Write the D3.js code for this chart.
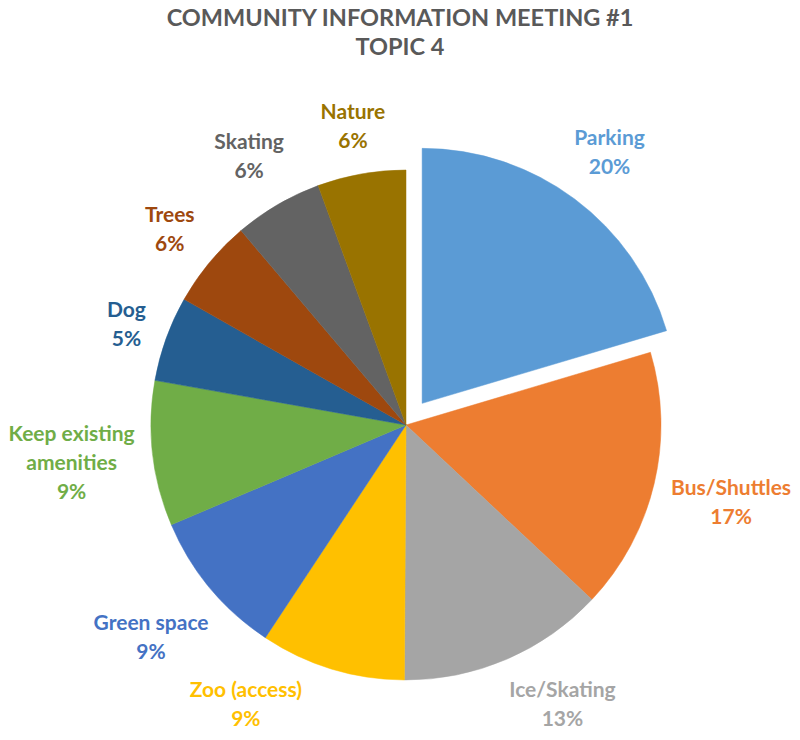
<!DOCTYPE html>
<html>
<head>
<meta charset="utf-8">
<script src="https://cdn.jsdelivr.net/npm/d3@7"></script>
<style>
  html, body { margin: 0; padding: 0; background: #fff; }
  svg { display: block; }
  text { font-family: "Lato", "Open Sans", sans-serif; font-weight: bold; }
</style>
</head>
<body>
<svg id="chart" width="800" height="740"></svg>
<script>
// ---- data ----
const titleLines = ["COMMUNITY INFORMATION MEETING #1", "TOPIC 4"];
const categories = ["Parking", "Bus/Shuttles", "Ice/Skating", "Zoo (access)", "Green space",
                    "Keep existing amenities", "Dog", "Trees", "Skating", "Nature"];
const values = [20.4, 16.6, 13.1, 9.2, 9.3, 9.2, 5.4, 5.6, 5.6, 5.6];
const labelLines = [["Parking"], ["Bus/Shuttles"], ["Ice/Skating"], ["Zoo (access)"], ["Green space"],
                    ["Keep existing", "amenities"], ["Dog"], ["Trees"], ["Skating"], ["Nature"]];
const explodedCategory = "Parking";

// ---- styles ----
const colors = ["#5B9BD5", "#ED7D31", "#A5A5A5", "#FFC000", "#4472C4",
                "#70AD47", "#255E91", "#9E480E", "#636363", "#997300"];
const cx = 406, cy = 425, R = 255, explode = 27, gap = 14, lineH = 29;
const bottomLimit = 734;

const svg = d3.select("#chart");
const color = d3.scaleOrdinal().domain(categories).range(colors);

// title
svg.append("g").selectAll("text").data(titleLines).join("text")
  .attr("x", 400).attr("y", (d, i) => 26 + i * 29)
  .attr("text-anchor", "middle")
  .attr("fill", "#595959")
  .style("font-size", "23.5px")
  .text(d => d);

const data = categories.map((c, i) => ({ cat: c, value: values[i], lines: labelLines[i] }));
const pie = d3.pie().sort(null).value(d => d.value).startAngle(0).endAngle(2 * Math.PI);
const arcs = pie(data);
const arc = d3.arc().innerRadius(0).outerRadius(R);

const g = svg.append("g").attr("transform", `translate(${cx},${cy})`);

function offsetOf(a) {
  if (a.data.cat !== explodedCategory) return [0, 0];
  const m = (a.startAngle + a.endAngle) / 2;
  return [Math.sin(m) * explode, -Math.cos(m) * explode];
}

g.selectAll("path").data(arcs).join("path")
  .attr("d", arc)
  .attr("transform", a => { const o = offsetOf(a); return `translate(${o[0]},${o[1]})`; })
  .attr("fill", a => color(a.data.cat))
  .attr("stroke", a => color(a.data.cat))
  .attr("stroke-width", 0.5);

// labels
const total = d3.sum(values);
const labels = g.selectAll("g.lbl").data(arcs).join("g").attr("class", "lbl");
labels.each(function(a) {
  const sel = d3.select(this);
  const lines = a.data.lines.concat([Math.round(a.data.value / total * 100) + "%"]);
  const t = sel.append("text")
    .attr("text-anchor", "middle")
    .attr("fill", color(a.data.cat))
    .style("font-size", "21px");
  lines.forEach((l, i) => {
    t.append("tspan").attr("x", 0).attr("y", (i - (lines.length - 1) / 2) * lineH)
      .attr("dy", "0.35em").text(l);
  });
  const bb = t.node().getBBox();
  const w = bb.width, h = lines.length * lineH;
  const o = offsetOf(a);
  const posAt = ang => {
    const ux = Math.sin(ang), uy = -Math.cos(ang);
    const sup = Math.abs(ux) * w / 2 + Math.abs(uy) * h / 2;
    const d = R + gap + sup;
    return [o[0] + ux * d, o[1] + uy * d];
  };
  let ang = (a.startAngle + a.endAngle) / 2;
  let p = posAt(ang);
  // slide along the circle away from the bottom if the label would leave the chart
  const dir = ang < Math.PI ? -1 : 1;
  let k = 0;
  while (cy + p[1] + h / 2 > bottomLimit && k < 200) {
    ang += dir * 0.005; p = posAt(ang); k++;
  }
  sel.attr("transform", `translate(${p[0]},${p[1]})`);
});
</script>
</body>
</html>
